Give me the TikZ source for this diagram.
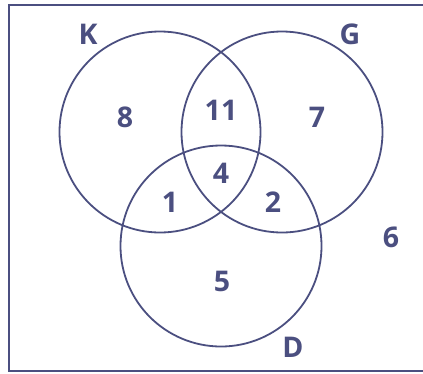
\documentclass[tikz,border=0pt]{standalone}
\usepackage{fontspec}
\setmainfont{Open Sans}
\definecolor{venn}{HTML}{4B4F80}

\begin{document}
\begin{tikzpicture}[x=1pt,y=-1pt,
    lbl/.style={text=venn, font=\bfseries\fontsize{28.5}{31}\selectfont, inner sep=0pt}]
    % 参数设置
    \def\r{100.5} % 圆的半径
    \def\lw{1.8pt} % 线宽

    \useasboundingbox (0,0) rectangle (423,373);

    % 全集边框（右侧无边）
    \draw[venn, line width=1.6pt] (423,5) -- (9,5) -- (9,371) -- (423,371);

    % 三个圆 K, G, D
    \draw[venn, line width=\lw] (160,132) circle (\r);
    \draw[venn, line width=\lw] (282,132) circle (\r);
    \draw[venn, line width=\lw] (221,246) circle (\r);

    % 集合名称
    \node[lbl] (K) at (88,34) {K};
    \node[lbl] (G) at (350,34) {G};
    \node[lbl] (D) at (293,347) {D};

    % 各区域的数
    \node[lbl] (onlyK) at (125,117) {8};
    \node[lbl] (KG) at (221,110) {11};
    \node[lbl] (onlyG) at (317,117) {7};
    \node[lbl] (KGD) at (221,173) {4};
    \node[lbl] (KD) at (170,202) {1};
    \node[lbl] (GD) at (273,202) {2};
    \node[lbl] (onlyD) at (222,281) {5};
    \node[lbl] (none) at (391,237) {6};
\end{tikzpicture}
\end{document}
